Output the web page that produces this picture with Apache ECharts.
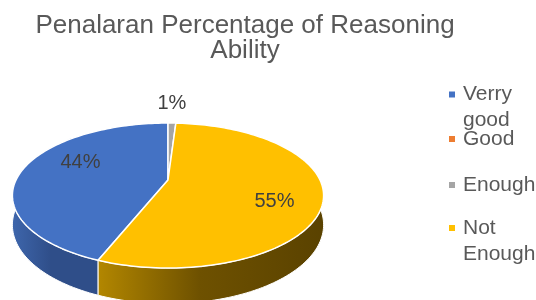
<!DOCTYPE html>
<html>
<head>
<meta charset="utf-8">
<script src="https://cdn.jsdelivr.net/npm/echarts@6/dist/echarts.min.js"></script>
<style>
html, body { margin: 0; padding: 0; background: #fff; }
#main { width: 536px; height: 300px; }
</style>
</head>
<body>
<div id="main"></div>
<script>
var categories = ['Verry good', 'Good', 'Enough', 'Not Enough'];
var values = [44, 0, 1, 55];
var colors = ['#4472C4', '#ED7D31', '#A5A5A5', '#FFC000'];
var wallColors = [
    ['#3e66ac', '#2f4e89', '#2f4e89'],
    ['#b35d1f', '#7a3f15', '#6a3612'],
    ['#8a8a8a', '#5f5f5f', '#555555'],
    ['#b38700', '#6e5100', '#5a4200']
];
var firstSliceAngle = 201.6;

// fake 3d pie layout
var cx = 168, cy = 180, rx = 152, ry = 69.2, persp = 0.214, depth = 28;

function proj(deg, r, drop) {
    var t = deg * Math.PI / 180;
    var u = r * Math.sin(t), w = -r * Math.cos(t);
    var s = 1 / (1 - persp * w);
    return [cx + rx * u * s, cy + (ry * w + (drop || 0)) * s];
}

function arcPoints(a0, a1, drop) {
    var pts = [];
    var n = Math.max(2, Math.ceil((a1 - a0) / 1.5));
    for (var j = 0; j <= n; j++) {
        pts.push(proj(a0 + (a1 - a0) * j / n, 1, drop));
    }
    return pts;
}

var total = values.reduce(function (s, v) { return s + v; }, 0);

function renderSlice(params, api) {
    var a0 = api.value(0), a1 = api.value(1), val = api.value(2);
    var idx = params.seriesIndex;
    var children = [];
    if (a1 - a0 <= 0) {
        return { type: 'group', children: children };
    }
    // front wall, only the near half is visible
    [0, 360].forEach(function (k) {
        var lo = Math.max(a0, 90 + k), hi = Math.min(a1, 270 + k);
        if (hi > lo) {
            var pts = arcPoints(lo, hi, 0).concat(arcPoints(lo, hi, depth).reverse());
            var wc = wallColors[idx];
            children.push({
                type: 'polygon',
                shape: { points: pts },
                style: {
                    fill: new echarts.graphic.LinearGradient(0, 0, 1, 0, [
                        { offset: 0, color: wc[0] },
                        { offset: 0.45, color: wc[1] },
                        { offset: 1, color: wc[2] }
                    ]),
                    stroke: '#fff',
                    lineWidth: 1
                }
            });
        }
    });
    // top face
    children.push({
        type: 'polygon',
        shape: { points: [[cx, cy]].concat(arcPoints(a0, a1, 0)) },
        style: { fill: api.visual('color'), stroke: '#fff', lineWidth: 1.5, lineJoin: 'round' }
    });
    // label
    var pct = Math.round(val / total * 100);
    var mid = (a0 + a1) / 2;
    var p;
    if (pct < 5) {
        p = proj(mid, 1, 0);
        p[1] -= 20;
    } else {
        p = proj(mid, 0.65, 0);
        p[0] += 7;
        p[1] += 50 * -Math.cos(mid * Math.PI / 180);
    }
    children.push({
        type: 'text',
        z2: 10,
        style: {
            text: pct + '%',
            x: p[0], y: p[1],
            align: 'center', verticalAlign: 'middle',
            fontFamily: 'Liberation Sans', fontSize: 20,
            fill: '#404040'
        }
    });
    return { type: 'group', children: children };
}

var series = [];
var acc = firstSliceAngle;
categories.forEach(function (name, i) {
    var sweep = values[i] / total * 360;
    series.push({
        name: name,
        type: 'custom',
        coordinateSystem: 'none',
        itemStyle: { color: colors[i] },
        data: [[acc, acc + sweep, values[i]]],
        renderItem: renderSlice
    });
    acc += sweep;
});

// legend: one per item so every marker sits on its first text line
var legendIconY = [94.5, 139, 185, 228];
var lh = 26;
var legends = categories.map(function (name, i) {
    var lines = name.split(' ').length;
    return {
        data: [name],
        orient: 'vertical',
        left: 449,
        top: legendIconY[i] - (lines > 1 ? 1.5 * lh : lh / 2),
        padding: 0,
        icon: 'rect',
        itemWidth: 6,
        itemHeight: 6,
        itemGap: 0,
        selectedMode: false,
        // blank first line keeps the marker on the first word
        formatter: function (n) {
            return n.indexOf(' ') > 0 ? '\n' + n.replace(' ', '\n') : n;
        },
        textStyle: {
            fontFamily: 'Liberation Sans',
            fontSize: 21,
            color: '#595959',
            lineHeight: lh,
            padding: [0, 0, 0, 3]
        }
    };
});

var myChart = echarts.init(document.getElementById('main'));
var option = {
    backgroundColor: '#fff',
    animation: false,
    title: {
        text: 'Penalaran Percentage of Reasoning\nAbility',
        left: 245,
        top: 13,
        padding: 0,
        textAlign: 'center',
        textStyle: {
            fontFamily: 'Liberation Sans',
            fontSize: 26,
            fontWeight: 'normal',
            color: '#595959',
            lineHeight: 25
        }
    },
    legend: legends,
    series: series
};
myChart.setOption(option);
</script>
</body>
</html>
